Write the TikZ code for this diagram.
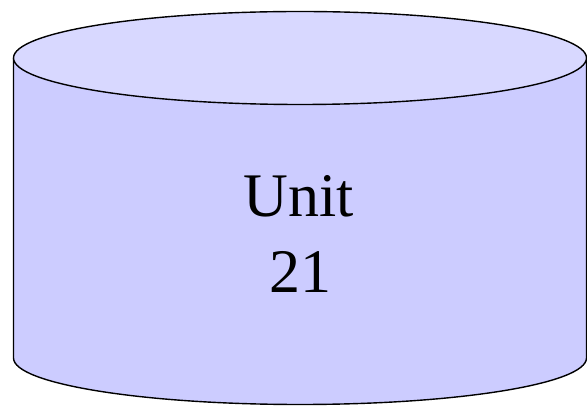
\documentclass[tikz,border=0pt]{standalone}
\usepackage{fontspec}
\setmainfont{Liberation Serif}
\definecolor{bodyc}{RGB}{204,204,255}
\definecolor{topc}{RGB}{216,216,255}
\tikzset{label text/.style={inner sep=0pt, font=\fontsize{62}{74}\selectfont, text=black}}
\begin{document}
\begin{tikzpicture}[x=1pt,y=1pt]
\useasboundingbox (0,0) rectangle (587,407);
\fill[bodyc] (13.5,349) -- (13.5,49) arc (180:360:286.5 and 46.5) -- (586.5,349) -- cycle;
\draw[line width=1.4pt] (13.5,349) -- (13.5,49) arc (180:360:286.5 and 46.5) -- (586.5,349);
\draw[line width=1.4pt, fill=topc] (300,349) ellipse (286.5 and 46.5);
\node[label text, anchor=base] (u1) at (299,190) {Unit};
\node[label text, anchor=base] (u2) at (300,114) {21};
\end{tikzpicture}
\end{document}
